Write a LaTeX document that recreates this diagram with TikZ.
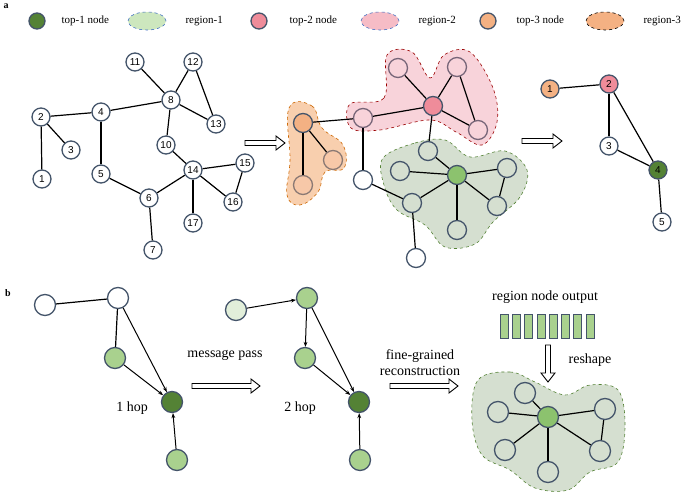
\documentclass[tikz,border=0pt]{standalone}
\usepackage{fontspec}
\setmainfont{Liberation Serif}
\newfontfamily\sansf{Liberation Sans}
\usetikzlibrary{arrows.meta,shapes.geometric}
\definecolor{nb}{HTML}{44546A}
\definecolor{dg}{HTML}{548235}
\definecolor{mg}{HTML}{8CC26E}
\definecolor{lg}{HTML}{A9D18E}
\definecolor{vlg}{HTML}{E2EFDA}
\definecolor{rg1}{HTML}{D5DFD0}
\definecolor{pk}{HTML}{EF8C9A}
\definecolor{rg2}{HTML}{F8D3DA}
\definecolor{or}{HTML}{F4B183}
\definecolor{rg3}{HTML}{F8CFAE}
\definecolor{lgr}{HTML}{CDE7BE}
\definecolor{lpk}{HTML}{F6BCC6}
\definecolor{bl}{HTML}{4472C4}
\tikzset{
 n/.style={circle,draw=nb,line width=1.3pt,fill=white,minimum size=18pt,inner sep=0pt,font=\sansf\fontsize{10}{10}\selectfont},
 m/.style={circle,draw=nb,line width=1.3pt,fill=white,minimum size=19pt,inner sep=0pt},
 b/.style={circle,draw=nb,line width=1.3pt,fill=white,minimum size=21pt,inner sep=0pt},
 e/.style={line width=1.2pt,black},
 ea/.style={line width=1pt,black,-{Stealth[length=5pt]}},
 lbl/.style={font=\fontsize{11}{12}\selectfont},
 reg/.style={dashed,line width=0.6pt},
 lel/.style={ellipse,reg,minimum width=38pt,minimum height=18pt},
 pics/harr/.style={code={
   \draw[line width=0.9pt,fill=white,line join=miter] (0,-2.5) -- (#1-9,-2.5) -- (#1-9,-7) -- (#1,0) -- (#1-9,7) -- (#1-9,2.5) -- (0,2.5) -- cycle;}},
}
\begin{document}
\begin{tikzpicture}[x=1pt,y=-1pt]
\useasboundingbox (0,0) rectangle (685,494);
\node[font=\bfseries] (la) at (6,6) {a};
\node[font=\bfseries] (lb) at (8,293) {b};
% legend
\node[m,fill=dg,minimum size=16pt] (l1) at (37,21) {};
\node[lbl,anchor=west] (t1) at (58,21) {top-1 node};
\node[lel,draw=bl,fill=lgr] (l2) at (147,21) {};
\node[lbl,anchor=west] (t2) at (182,21) {region-1};
\node[m,fill=pk,minimum size=16pt] (l3) at (259,21) {};
\node[lbl,anchor=west] (t3) at (286,21) {top-2 node};
\node[lel,draw=bl,fill=lpk] (l4) at (380,21) {};
\node[lbl,anchor=west] (t4) at (415,21) {region-2};
\node[m,fill=or,minimum size=16pt] (l5) at (488,21) {};
\node[lbl,anchor=west] (t5) at (513,21) {top-3 node};
\node[lel,draw=black,fill=or] (l6) at (605,21) {};
\node[lbl,anchor=west] (t6) at (640,21) {region-3};
% graph 1
\foreach \i/\x/\y in {1/42/179,2/41/117,3/71/150,4/101/112,5/101/174,6/149/198,7/153/250,8/171/100,10/166/145,11/135/62,12/193/62,13/216/124,14/193/170,15/245/163,16/233/202,17/193/223}
  \node[n] (g\i) at (\x,\y) {\i};
\foreach \a/\c in {2/1,2/3,2/4,4/5,4/8,5/6,6/7,6/14,8/11,8/12,8/13,12/13,8/10,10/14,14/15,14/16,15/16,14/17}
  \draw[e] (g\a) -- (g\c);
% arrows
\pic at (245,143) {harr=40};
\pic at (522,141) {harr=40};
% regions
\draw[reg,draw=orange!80!black,fill=rg3] plot[smooth cycle,tension=0.7] coordinates {(289,108)(312,106)(322,128)(343,145)(344,168)(325,172)(318,192)(300,205)(287,195)(290,160)};
\draw[reg,draw=red!60!black,fill=rg2] plot[smooth cycle,tension=0.6] coordinates {(350,104)(384,98)(387,55)(412,52)(430,78)(444,55)(470,52)(493,88)(497,122)(482,145)(456,132)(430,120)(380,130)(351,128)};
\draw[reg,draw=dg,fill=rg1] plot[smooth cycle,tension=0.6] coordinates {(383,158)(415,143)(445,140)(470,157)(505,151)(527,170)(520,197)(493,222)(475,244)(445,247)(425,225)(397,210)(384,185)};
% graph 2
\begin{scope}[every node/.append style={m}]
\node[fill=or] (o1) at (303,123) {};
\node[fill=or!70!white,draw=nb!60!or] (o2) at (333,160) {};
\node[fill=or!70!white,draw=nb!60!or] (o3) at (303,185) {};
\node[fill=rg2,draw=nb!70!pk] (p1) at (363,118) {};
\node[fill=rg2,draw=nb!70!pk] (p2) at (398,68) {};
\node[fill=rg2,draw=nb!70!pk] (p3) at (457,67) {};
\node[fill=pk] (pc) at (433,106) {};
\node[fill=rg2,draw=nb!70!pk] (p4) at (478,130) {};
\node (w1) at (363,180) {};
\node[fill=rg1] (q1) at (428,151) {};
\node[fill=rg1] (q2) at (400,171) {};
\node[fill=mg] (qc) at (457,175) {};
\node[fill=rg1] (q3) at (507,168) {};
\node[fill=rg1] (q4) at (497,206) {};
\node[fill=rg1] (q5) at (457,230) {};
\node[fill=rg1] (q6) at (412,203) {};
\node (w2) at (416,258) {};
\end{scope}
\foreach \a/\c in {o1/p1,o1/o2,o1/o3,p1/pc,p1/w1,pc/p2,pc/p3,pc/p4,p3/p4,pc/q1,q1/qc,qc/q2,qc/q3,qc/q4,qc/q5,qc/q6,q3/q4,w1/q6,q6/w2}
  \draw[e] (\a) -- (\c);
% graph 3
\node[n,fill=or] (r1) at (550,89) {1};
\node[n,fill=pk] (r2) at (609,84) {2};
\node[n] (r3) at (609,146) {3};
\node[n,fill=dg] (r4) at (658,170) {4};
\node[n] (r5) at (662,222) {5};
\foreach \a/\c in {r1/r2,r2/r3,r3/r4,r2/r4,r4/r5} \draw[e] (\a) -- (\c);
% part b graph 1
\node[b] (h1) at (45,305) {};
\node[b] (h2) at (118,298) {};
\node[b,fill=lg] (h3) at (115,358) {};
\node[b,fill=dg] (h4) at (172,402) {};
\node[b,fill=lg] (h5) at (177,460) {};
\draw[e] (h1) -- (h2); \draw[e] (h2) -- (h3);
\draw[ea] (h2) -- (h4); \draw[ea] (h3) -- (h4); \draw[ea] (h5) -- (h4);
\node[font=\fontsize{14}{14}\selectfont] (hop1) at (132,408) {1 hop};
% graph 2
\node[b,fill=vlg] (k1) at (236,310) {};
\node[b,fill=lg] (k2) at (307,298) {};
\node[b,fill=lg] (k3) at (305,358) {};
\node[b,fill=dg] (k4) at (359,402) {};
\node[b,fill=lg] (k5) at (360,460) {};
\draw[ea] (k1) -- (k2); \draw[ea] (k2) -- (k3);
\draw[ea] (k2) -- (k4); \draw[ea] (k3) -- (k4); \draw[ea] (k5) -- (k4);
\node[font=\fontsize{14}{14}\selectfont] (hop2) at (300,408) {2 hop};
\node[font=\fontsize{14}{14}\selectfont] (mp) at (225,355) {message pass};
\pic at (192,386) {harr=68};
\node[font=\fontsize{14}{16}\selectfont,align=center] (fg) at (420,363) {fine-grained\\reconstruction};
\pic at (390,386) {harr=68};
\node[font=\fontsize{14}{14}\selectfont] (rno) at (545,297) {region node output};
\foreach \i in {0,...,7}
  \node[draw=nb,fill=lg,line width=0.8pt,minimum width=8pt,minimum height=24pt,inner sep=0pt] (bar\i) at (504+\i*12.3,326) {};
\pic[rotate=-90] at (548,345) {harr=37};
\node[font=\fontsize{14}{14}\selectfont] (rsh) at (590,360) {reshape};
\draw[reg,draw=dg,fill=rg1] plot[smooth cycle,tension=0.6] coordinates {(478,380)(510,372)(535,382)(565,395)(590,385)(618,390)(625,425)(618,462)(590,472)(568,490)(535,488)(510,470)(482,455)(472,420)};
\node[b,fill=mg] (c0) at (548,417) {};
\node[b,fill=rg1] (c1) at (525,393) {};
\node[b,fill=rg1] (c2) at (498,412) {};
\node[b,fill=rg1] (c3) at (505,450) {};
\node[b,fill=rg1] (c4) at (548,472) {};
\node[b,fill=rg1] (c5) at (600,451) {};
\node[b,fill=rg1] (c6) at (605,409) {};
\foreach \c in {c1,c2,c3,c4,c5,c6} \draw[e] (c0) -- (\c);
\draw[e] (c6) -- (c5);
\end{tikzpicture}
\end{document}
